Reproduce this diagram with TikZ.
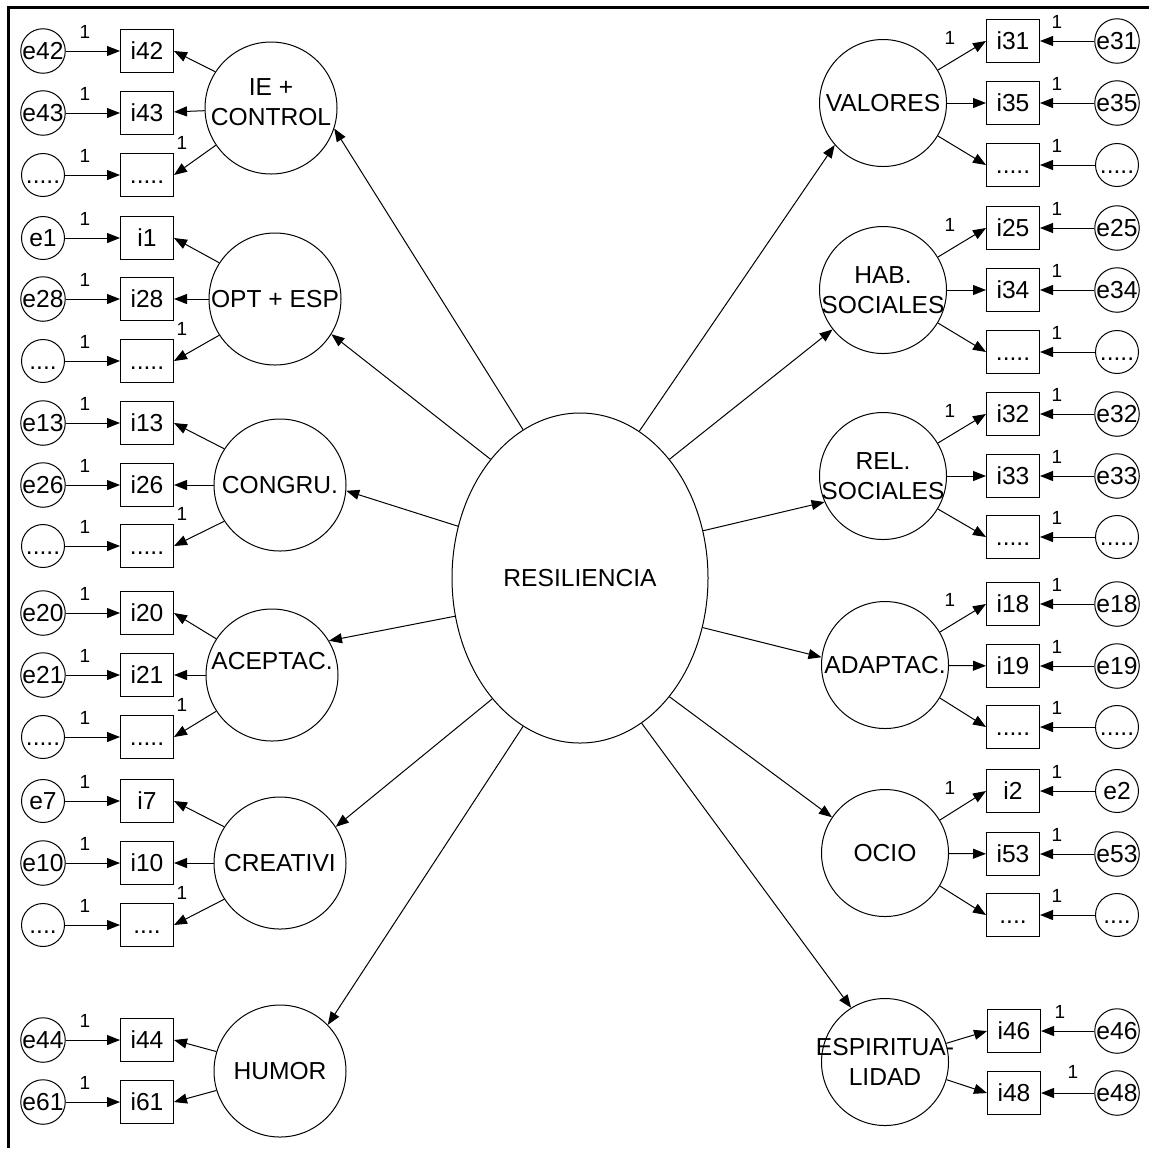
\documentclass[tikz,border=0pt]{standalone}
\usepackage{fontspec}
\setmainfont{Liberation Sans}
\usetikzlibrary{arrows.meta,shapes.geometric}
\begin{document}
\begin{tikzpicture}[x=0.5pt,y=-0.5pt,line width=0.5pt,
  every node/.style={font=\fontsize{12.3}{15}\selectfont},
  ind/.style={draw,rectangle,inner sep=0pt,minimum width=26.5pt,minimum height=21.5pt,text height=8.8pt,text depth=0pt},
  err/.style={draw,circle,inner sep=0pt,minimum size=21.5pt,text height=8.8pt,text depth=0pt},
  latL/.style={draw,circle,inner sep=0pt,minimum size=66pt},
  latR/.style={draw,circle,inner sep=0pt,minimum size=63.5pt},
  lt/.style={align=center,inner sep=0pt},
  one/.style={font=\fontsize{9.5}{11}\selectfont,inner sep=0pt},
  arr/.style={-{Triangle[length=6.5pt,width=5pt]},line width=0.5pt}]
\useasboundingbox (0,0) rectangle (1149,1148);
\draw[line width=1.1pt] (1149,7.5) -- (8.5,7.5) -- (8.5,1148);

% central
\node[draw,ellipse,inner sep=0pt,minimum width=128pt,minimum height=165pt] (res) at (580,578) {RESILIENCIA};

% ---------- LEFT ----------
% IE + CONTROL
\node[latL,label={[lt,yshift=3pt]center:IE +\\CONTROL}] (ie) at (271,108) {};
\node[err] (e42) at (43,51) {e42};
\node[err] (e43) at (43,113) {e43};
\node[err] (eA3) at (43,175) {.....};
\node[ind] (i42) at (147,51) {i42};
\node[ind] (i43) at (147,113) {i43};
\node[ind] (iA3) at (147,175) {.....};
\draw[arr] (e42) -- (i42);
\draw[arr] (e43) -- (i43);
\draw[arr] (eA3) -- (iA3);
\draw[arr] (ie.147) -- (i42.east);
\draw[arr] (ie) -- (i43);
\draw[arr] (ie.214) -- (iA3.east);
\node[one] (oA1) at (85,32) {1};
\node[one] (oA2) at (85,94) {1};
\node[one] (oA3) at (85,156) {1};
\node[one] (lA3) at (182,143) {1};

% OPT + ESP
\node[latL,label={[lt]center:OPT + ESP}] (opt) at (275,299) {};
\node[err] (e1) at (43,238) {e1};
\node[err] (e28) at (43,299) {e28};
\node[err] (eB3) at (43,361) {....};
\node[ind] (i1) at (147,238) {i1};
\node[ind] (i28) at (147,299) {i28};
\node[ind] (iB3) at (147,361) {.....};
\draw[arr] (e1) -- (i1);
\draw[arr] (e28) -- (i28);
\draw[arr] (eB3) -- (iB3);
\draw[arr] (opt.147) -- (i1.east);
\draw[arr] (opt) -- (i28);
\draw[arr] (opt.213) -- (iB3.east);
\node[one] (oB1) at (85,219) {1};
\node[one] (oB2) at (85,280) {1};
\node[one] (oB3) at (85,342) {1};
\node[one] (lB3) at (182,329) {1};

% CONGRU.
\node[latL,label={[lt]center:CONGRU.}] (cong) at (280,485) {};
\node[err] (e13) at (43,423) {e13};
\node[err] (e26) at (43,485) {e26};
\node[err] (eC3) at (43,546) {.....};
\node[ind] (i13) at (147,423) {i13};
\node[ind] (i26) at (147,485) {i26};
\node[ind] (iC3) at (147,546) {.....};
\draw[arr] (e13) -- (i13);
\draw[arr] (e26) -- (i26);
\draw[arr] (eC3) -- (iC3);
\draw[arr] (cong.147) -- (i13.east);
\draw[arr] (cong) -- (i26);
\draw[arr] (cong.213) -- (iC3.east);
\node[one] (oC1) at (85,404) {1};
\node[one] (oC2) at (85,466) {1};
\node[one] (oC3) at (85,527) {1};
\node[one] (lC3) at (182,514) {1};

% ACEPTAC.
\node[latL,label={[lt,yshift=7pt]center:ACEPTAC.}] (acep) at (272,675) {};
\node[err] (e20) at (43,613) {e20};
\node[err] (e21) at (43,675) {e21};
\node[err] (eD3) at (43,737) {.....};
\node[ind] (i20) at (147,613) {i20};
\node[ind] (i21) at (147,675) {i21};
\node[ind] (iD3) at (147,737) {.....};
\draw[arr] (e20) -- (i20);
\draw[arr] (e21) -- (i21);
\draw[arr] (eD3) -- (iD3);
\draw[arr] (acep.147) -- (i20.east);
\draw[arr] (acep) -- (i21);
\draw[arr] (acep.213) -- (iD3.east);
\node[one] (oD1) at (85,594) {1};
\node[one] (oD2) at (85,656) {1};
\node[one] (oD3) at (85,718) {1};
\node[one] (lD3) at (182,705) {1};

% CREATIVI
\node[latL,label={[lt]center:CREATIVI}] (crea) at (280,863) {};
\node[err] (e7) at (43,801) {e7};
\node[err] (e10) at (43,863) {e10};
\node[err] (eE3) at (43,925) {....};
\node[ind] (i7) at (147,801) {i7};
\node[ind] (i10) at (147,863) {i10};
\node[ind] (iE3) at (147,925) {....};
\draw[arr] (e7) -- (i7);
\draw[arr] (e10) -- (i10);
\draw[arr] (eE3) -- (iE3);
\draw[arr] (crea.147) -- (i7.east);
\draw[arr] (crea) -- (i10);
\draw[arr] (crea.213) -- (iE3.east);
\node[one] (oE1) at (85,782) {1};
\node[one] (oE2) at (85,844) {1};
\node[one] (oE3) at (85,906) {1};
\node[one] (lE3) at (182,893) {1};

% HUMOR
\node[latL,label={[lt]center:HUMOR}] (hum) at (280,1071) {};
\node[err] (e44) at (43,1040) {e44};
\node[err] (e61) at (43,1102) {e61};
\node[ind] (i44) at (147,1040) {i44};
\node[ind] (i61) at (147,1102) {i61};
\draw[arr] (e44) -- (i44);
\draw[arr] (e61) -- (i61);
\draw[arr] (hum.163) -- (i44.east);
\draw[arr] (hum.197) -- (i61.east);
\node[one] (oF1) at (85,1021) {1};
\node[one] (oF2) at (85,1083) {1};

% ---------- RIGHT ----------
% VALORES
\node[latR,label={[lt]center:VALORES}] (val) at (883,103) {};
\node[ind] (i31) at (1013,41) {i31};
\node[ind] (i35) at (1013,103) {i35};
\node[ind] (iG3) at (1013,165) {.....};
\node[err] (e31) at (1117,41) {e31};
\node[err] (e35) at (1117,103) {e35};
\node[err] (eG3) at (1117,165) {.....};
\draw[arr] (e31) -- (i31);
\draw[arr] (e35) -- (i35);
\draw[arr] (eG3) -- (iG3);
\draw[arr] (val.31) -- (i31.west);
\draw[arr] (val) -- (i35);
\draw[arr] (val.329) -- (iG3.west);
\node[one] (oG1) at (1057,22) {1};
\node[one] (oG2) at (1057,84) {1};
\node[one] (oG3) at (1057,146) {1};
\node[one] (lG1) at (950,38) {1};

% HAB. SOCIALES
\node[latR,label={[lt]center:HAB.\\SOCIALES}] (hab) at (883,290) {};
\node[ind] (i25) at (1013,228) {i25};
\node[ind] (i34) at (1013,290) {i34};
\node[ind] (iH3) at (1013,352) {.....};
\node[err] (e25) at (1117,228) {e25};
\node[err] (e34) at (1117,290) {e34};
\node[err] (eH3) at (1117,352) {.....};
\draw[arr] (e25) -- (i25);
\draw[arr] (e34) -- (i34);
\draw[arr] (eH3) -- (iH3);
\draw[arr] (hab.31) -- (i25.west);
\draw[arr] (hab) -- (i34);
\draw[arr] (hab.329) -- (iH3.west);
\node[one] (oH1) at (1057,209) {1};
\node[one] (oH2) at (1057,271) {1};
\node[one] (oH3) at (1057,333) {1};
\node[one] (lH1) at (950,225) {1};

% REL. SOCIALES
\node[latR,label={[lt]center:REL.\\SOCIALES}] (rel) at (883,476) {};
\node[ind] (i32) at (1013,414) {i32};
\node[ind] (i33) at (1013,476) {i33};
\node[ind] (iI3) at (1013,537) {.....};
\node[err] (e32) at (1117,414) {e32};
\node[err] (e33) at (1117,476) {e33};
\node[err] (eI3) at (1117,537) {.....};
\draw[arr] (e32) -- (i32);
\draw[arr] (e33) -- (i33);
\draw[arr] (eI3) -- (iI3);
\draw[arr] (rel.31) -- (i32.west);
\draw[arr] (rel) -- (i33);
\draw[arr] (rel.329) -- (iI3.west);
\node[one] (oI1) at (1057,395) {1};
\node[one] (oI2) at (1057,457) {1};
\node[one] (oI3) at (1057,518) {1};
\node[one] (lI1) at (950,411) {1};

% ADAPTAC.
\node[latR,label={[lt]center:ADAPTAC.}] (adap) at (885,665) {};
\node[ind] (i18) at (1013,604) {i18};
\node[ind] (i19) at (1013,666) {i19};
\node[ind] (iJ3) at (1013,727) {.....};
\node[err] (e18) at (1117,604) {e18};
\node[err] (e19) at (1117,666) {e19};
\node[err] (eJ3) at (1117,727) {.....};
\draw[arr] (e18) -- (i18);
\draw[arr] (e19) -- (i19);
\draw[arr] (eJ3) -- (iJ3);
\draw[arr] (adap.31) -- (i18.west);
\draw[arr] (adap) -- (i19);
\draw[arr] (adap.329) -- (iJ3.west);
\node[one] (oJ1) at (1057,585) {1};
\node[one] (oJ2) at (1057,647) {1};
\node[one] (oJ3) at (1057,708) {1};
\node[one] (lJ1) at (950,600) {1};

% OCIO
\node[latR,label={[lt]center:OCIO}] (ocio) at (885,853) {};
\node[ind] (i2) at (1013,791) {i2};
\node[ind] (i53) at (1013,854) {i53};
\node[ind] (iK3) at (1013,915) {....};
\node[err] (e2) at (1117,791) {e2};
\node[err] (e53) at (1117,854) {e53};
\node[err] (eK3) at (1117,915) {....};
\draw[arr] (e2) -- (i2);
\draw[arr] (e53) -- (i53);
\draw[arr] (eK3) -- (iK3);
\draw[arr] (ocio.31) -- (i2.west);
\draw[arr] (ocio) -- (i53);
\draw[arr] (ocio.329) -- (iK3.west);
\node[one] (oK1) at (1057,772) {1};
\node[one] (oK2) at (1057,835) {1};
\node[one] (oK3) at (1057,896) {1};
\node[one] (lK1) at (950,788) {1};

% ESPIRITUALIDAD
\node[latR,label={[lt]center:ESPIRITUA-\\LIDAD}] (esp) at (885,1062) {};
\node[ind] (i46) at (1014,1031) {i46};
\node[ind] (i48) at (1014,1093) {i48};
\node[err] (e46) at (1117,1031) {e46};
\node[err] (e48) at (1117,1093) {e48};
\draw[arr] (e46) -- (i46);
\draw[arr] (e48) -- (i48);
\draw[arr] (esp.17) -- (i46.west);
\draw[arr] (esp.344) -- (i48.west);
\node[one] (oL1) at (1060,1012) {1};
\node[one] (oL2) at (1073,1072) {1};

% ---------- structural paths ----------
\draw[arr] (res.111) -- (ie.342);
\draw[arr] (res.127) -- (opt.328);
\draw[arr] (res.157) -- (cong.355);
\draw[arr] (res.197) -- (acep.31);
\draw[arr] (res.234) -- (crea.33);
\draw[arr] (res.249) -- (hum.44);
\draw[arr] (res.68) -- (val.221);
\draw[arr] (res.53) -- (hab.218);
\draw[arr] (res.21) -- (rel.204);
\draw[arr] (res.338) -- (adap.173);
\draw[arr] (res.307) -- (ocio.146);
\draw[arr] (res.293) -- (esp.122);
\end{tikzpicture}
\end{document}
